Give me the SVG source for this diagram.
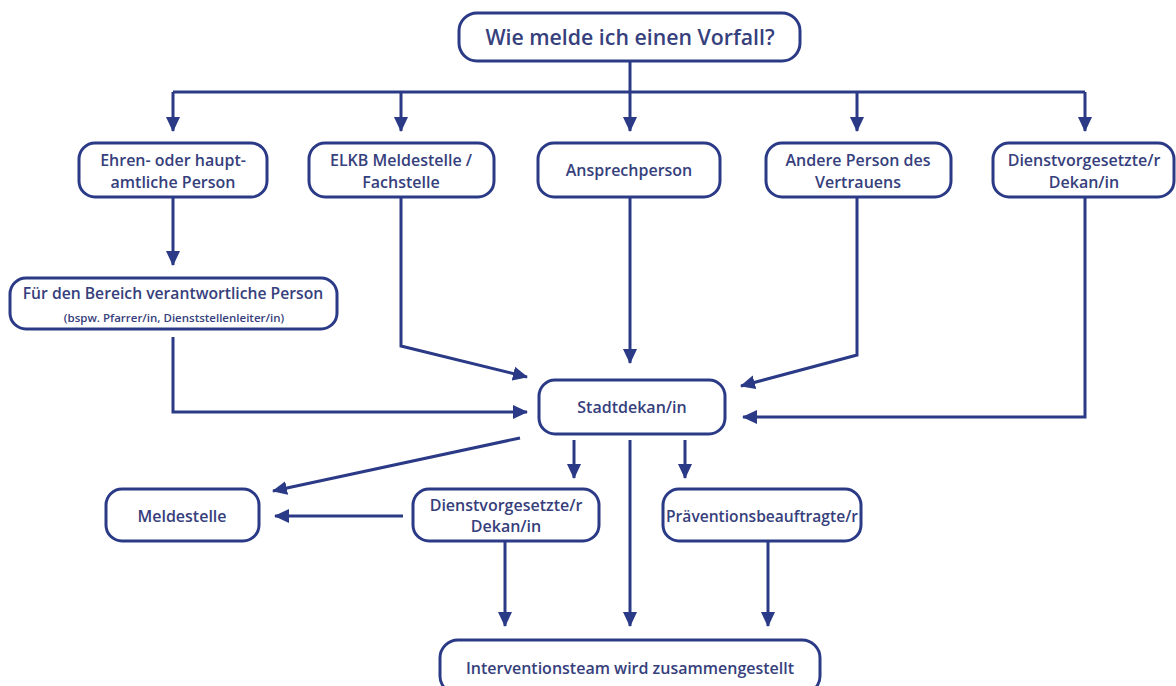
<svg xmlns="http://www.w3.org/2000/svg" width="1176" height="686" viewBox="0 0 1176 686">
<style>
.box{fill:#fff;stroke:#2b3a86;stroke-width:3}
.t{font-family:"Open Sans","Noto Sans",sans-serif;font-weight:600;fill:#36407c;text-anchor:middle;font-size:16px}
.big{font-size:21.3px}
.sm{font-size:12px}
.c{fill:none;stroke:#2b3a86;stroke-width:3}
</style>
<defs>
<marker id="a" markerUnits="userSpaceOnUse" markerWidth="16" markerHeight="16" viewBox="0 0 16 16" refX="14" refY="8" orient="auto">
<path d="M0,1 L15,8 L0,15 Z" fill="#2b3a86"/>
</marker>
</defs>
<rect width="1176" height="686" fill="#fff"/>
<g id="connectors">
<path class="c" d="M630,61 V131" marker-end="url(#a)"/>
<path class="c" d="M173,92 H1085"/>
<path class="c" d="M173,92 V131" marker-end="url(#a)"/>
<path class="c" d="M401,92 V131" marker-end="url(#a)"/>
<path class="c" d="M857,92 V131" marker-end="url(#a)"/>
<path class="c" d="M1085,92 V131" marker-end="url(#a)"/>
<path class="c" d="M173,197 V265" marker-end="url(#a)"/>
<path class="c" d="M173,337 V412 H527" marker-end="url(#a)"/>
<path class="c" d="M401,197 V346 L527,377" marker-end="url(#a)"/>
<path class="c" d="M630,197 V363" marker-end="url(#a)"/>
<path class="c" d="M857,197 V355 L741,386" marker-end="url(#a)"/>
<path class="c" d="M1085,197 V417 H743" marker-end="url(#a)"/>
<path class="c" d="M520,438 L273,491" marker-end="url(#a)"/>
<path class="c" d="M574,440 V478" marker-end="url(#a)"/>
<path class="c" d="M630,440 V626" marker-end="url(#a)"/>
<path class="c" d="M685,440 V478" marker-end="url(#a)"/>
<path class="c" d="M403,516 H275" marker-end="url(#a)"/>
<path class="c" d="M505,541 V626" marker-end="url(#a)"/>
<path class="c" d="M768,541 V626" marker-end="url(#a)"/>
</g>
<g id="n-top"><rect class="box" x="459" y="13" width="341" height="48" rx="18"/><text class="t big" x="630" y="45">Wie melde ich einen Vorfall?</text></g>
<g id="n-ehren"><rect class="box" x="79" y="143" width="188" height="54" rx="16"/><text class="t" x="173" y="166">Ehren- oder haupt-</text><text class="t" x="173" y="188">amtliche Person</text></g>
<g id="n-elkb"><rect class="box" x="309" y="143" width="185" height="54" rx="16"/><text class="t" x="401" y="166">ELKB Meldestelle /</text><text class="t" x="401" y="188">Fachstelle</text></g>
<g id="n-ansprech"><rect class="box" x="538" y="143" width="182" height="54" rx="16"/><text class="t" x="629" y="176">Ansprechperson</text></g>
<g id="n-andere"><rect class="box" x="766" y="143" width="185" height="54" rx="16"/><text class="t" x="858" y="166">Andere Person des</text><text class="t" x="858" y="188">Vertrauens</text></g>
<g id="n-dienst1"><rect class="box" x="993" y="143" width="181" height="54" rx="16"/><text class="t" x="1084" y="166">Dienstvorgesetzte/r</text><text class="t" x="1084" y="188">Dekan/in</text></g>
<g id="n-bereich"><rect class="box" x="10" y="278" width="327" height="51" rx="16"/><text class="t" x="173" y="299" style="font-size:15.7px">Für den Bereich verantwortliche Person</text><text class="t sm" x="174" y="322" style="font-size:11.5px">(bspw. Pfarrer/in, Dienststellenleiter/in)</text></g>
<g id="n-stadt"><rect class="box" x="539" y="380" width="186" height="54" rx="16"/><text class="t" x="632" y="413">Stadtdekan/in</text></g>
<g id="n-melde"><rect class="box" x="106" y="489" width="153" height="52" rx="16"/><text class="t" x="182" y="522">Meldestelle</text></g>
<g id="n-dienst2"><rect class="box" x="413" y="489" width="186" height="52" rx="16"/><text class="t" x="506" y="511">Dienstvorgesetzte/r</text><text class="t" x="506" y="532">Dekan/in</text></g>
<g id="n-praev"><rect class="box" x="663" y="489" width="198" height="52" rx="16"/><text class="t" x="762" y="522" style="font-size:15.6px">Präventionsbeauftragte/r</text></g>
<g id="n-interv"><rect class="box" x="440" y="640" width="380" height="54" rx="18"/><text class="t" x="630" y="674">Interventionsteam wird zusammengestellt</text></g>
</svg>
